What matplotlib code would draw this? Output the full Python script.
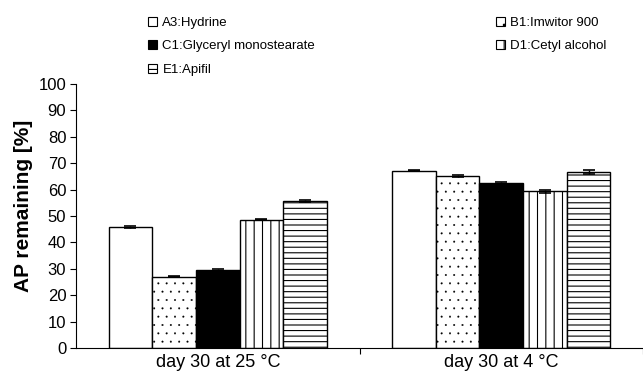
import numpy as np
import matplotlib.pyplot as plt
from matplotlib.patches import Patch

plt.rcParams['font.family'] = ['Liberation Sans', 'DejaVu Sans']
plt.rcParams['hatch.linewidth'] = 0.8

# data
groups = ['day 30 at 25 °C', 'day 30 at 4 °C']
series = ['A3:Hydrine', 'B1:Imwitor 900', 'C1:Glyceryl monostearate',
          'D1:Cetyl alcohol', 'E1:Apifil']
values = {
    'A3:Hydrine': [46.0, 67.2],
    'B1:Imwitor 900': [27.0, 65.3],
    'C1:Glyceryl monostearate': [29.4, 62.4],
    'D1:Cetyl alcohol': [48.6, 59.4],
    'E1:Apifil': [55.6, 66.6],
}
errors = {
    'A3:Hydrine': [0.4, 0.3],
    'B1:Imwitor 900': [0.2, 0.4],
    'C1:Glyceryl monostearate': [0.4, 0.4],
    'D1:Cetyl alcohol': [0.3, 0.5],
    'E1:Apifil': [0.4, 0.8],
}
fills = ['white', 'white', 'black', 'white', 'white']
hatches = [None, '..', None, '||', '---']
hatch_lw = [0.8, 0.2, 0.8, 0.8, 0.8]

fig = plt.figure(figsize=(6.43, 3.76), dpi=100)
ax = fig.add_axes([76 / 643, 28 / 376, 567 / 643, 264 / 376])

x = np.arange(len(groups))
w = 0.154
for i, s in enumerate(series):
    pos = x + (i - 2) * w
    with plt.rc_context({'hatch.linewidth': hatch_lw[i]}):
        ax.bar(pos, values[s], w, color=fills[i], edgecolor='black',
               linewidth=1.0, hatch=hatches[i], zorder=2)
    ax.errorbar(pos, values[s], yerr=errors[s], fmt='none', ecolor='black',
                elinewidth=1.0, capsize=4, capthick=1.2, zorder=3)

ax.set_xlim(-0.5, 1.48)
ax.set_ylim(0, 100)
ax.set_yticks(range(0, 101, 10))
ax.tick_params(axis='y', labelsize=12, direction='out', length=4, width=0.8, pad=3)

ax.set_xticks([0.5, 1.5])
ax.set_xticklabels(['', ''])
ax.set_xticks(x, minor=True)
ax.set_xticklabels(groups, minor=True, fontsize=13)
ax.tick_params(axis='x', which='major', length=4, width=0.8, direction='out')
ax.tick_params(axis='x', which='minor', length=0, pad=4)

ax.spines['top'].set_visible(False)
ax.spines['right'].set_visible(False)
ax.spines['left'].set_linewidth(0.8)
ax.spines['bottom'].set_linewidth(0.8)

ax.set_ylabel('AP remaining [%]', fontsize=15, fontweight='bold')
ax.yaxis.set_label_coords(-0.076, 0.54)

handles = [Patch(facecolor=fills[i], edgecolor='black', hatch=hatches[i],
                 linewidth=0.8, label=s) for i, s in enumerate(series)]
order = [0, 2, 4, 1, 3]
fig.legend([handles[i] for i in order], [series[i] for i in order],
           ncol=2, loc='upper left', bbox_to_anchor=(136 / 643, 0.987),
           frameon=False, fontsize=9.5, handlelength=0.7, handleheight=0.7,
           handletextpad=0.4, labelspacing=0.85, columnspacing=13.7)

fig.savefig('out.png', dpi=100)
